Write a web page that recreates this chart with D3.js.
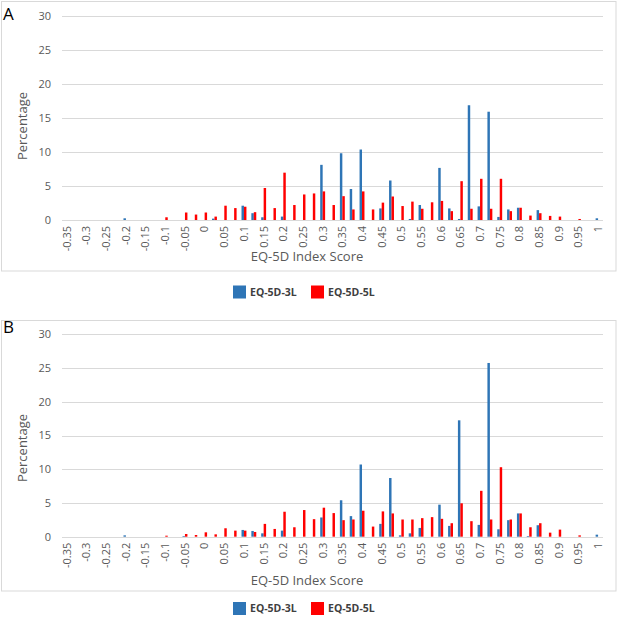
<!DOCTYPE html>
<html>
<head>
<meta charset="utf-8">
<script src="https://cdn.jsdelivr.net/npm/d3@7"></script>
<style>
  html, body { margin: 0; padding: 0; background: #fff; }
  svg { display: block; font-family: "Open Sans", "Liberation Sans", sans-serif; }
</style>
</head>
<body>
<svg id="chart" width="618" height="617"></svg>
<script>
// Categories: EQ-5D index score bins (step 0.025)
const categories = [-0.35,-0.325,-0.3,-0.275,-0.25,-0.225,-0.2,-0.175,-0.15,-0.125,-0.1,-0.075,-0.05,-0.025,0,0.025,0.05,0.075,0.1,0.125,0.15,0.175,0.2,0.225,0.25,0.275,0.3,0.325,0.35,0.375,0.4,0.425,0.45,0.475,0.5,0.525,0.55,0.575,0.6,0.625,0.65,0.675,0.7,0.725,0.75,0.775,0.8,0.825,0.85,0.875,0.9,0.925,0.95,0.975,1];
const tickLabels = ["-0.35","-0.3","-0.25","-0.2","-0.15","-0.1","-0.05","0","0.05","0.1","0.15","0.2","0.25","0.3","0.35","0.4","0.45","0.5","0.55","0.6","0.65","0.7","0.75","0.8","0.85","0.9","0.95","1"];
const yTicks = [0,5,10,15,20,25,30];
const seriesNames = ["EQ-5D-3L","EQ-5D-5L"];

// Panel A
const panelA_3L = [0,0,0,0,0,0,0.25,0,0,0,0,0,0,0,0,0.2,0,0,2.1,1.0,0.4,0,0.5,0,0,0,8.1,0,9.8,4.55,10.35,0,1.7,5.8,0,0.15,2.2,0,7.65,1.7,0.15,16.85,2.0,15.9,0.45,1.55,1.8,0,1.45,0,0,0,0,0,0.25];
const panelA_5L = [0,0,0,0,0,0,0,0,0,0,0.4,0,1.1,0.8,1.1,0.5,2.1,1.75,1.95,1.15,4.7,1.75,6.95,2.2,3.75,3.9,4.2,2.2,3.5,1.55,4.2,1.55,2.55,3.45,2.05,2.7,1.65,2.6,2.8,1.3,5.7,1.65,6.05,1.65,6.05,1.3,1.8,0.65,1.0,0.6,0.5,0,0.15,0,0];
// Panel B
const panelB_3L = [0,0,0,0,0,0,0.2,0,0,0,0,0,0.1,0,0,0,0,0,1.0,0.85,0.5,0,0.9,0,0,0,2.85,0,5.4,3.05,10.7,0,1.9,8.7,0.2,0.5,1.3,0,4.75,1.6,17.25,0,1.75,25.75,1.1,2.45,3.45,0.1,1.7,0,0,0,0,0,0.3];
const panelB_5L = [0,0,0,0,0,0,0,0,0,0,0.15,0,0.4,0.25,0.65,0.35,1.25,0.9,0.9,0.7,1.9,1.15,3.7,1.4,3.95,2.6,4.3,3.5,2.45,2.55,3.85,1.5,3.75,3.45,2.55,2.55,2.75,2.9,2.65,2.0,4.95,2.3,6.8,2.55,10.3,2.55,3.45,1.4,2.0,0.6,1.05,0,0.2,0,0];

const colors = { "EQ-5D-3L": "#2e75b6", "EQ-5D-5L": "#ff0000" };
const textGray = "#595959";
const gridGray = "#d9d9d9";

const svg = d3.select("#chart");

const x = d3.scaleBand()
  .domain(categories.map(String))
  .range([62, 603])
  .paddingInner(0.5)
  .paddingOuter(0.25);
const xSub = d3.scaleBand().domain(seriesNames).range([0, x.bandwidth()]);

function drawPanel(cfg) {
  const g = svg.append("g");
  // frame
  g.append("rect")
    .attr("x", 1.5).attr("y", cfg.frameTop)
    .attr("width", 614.5).attr("height", cfg.frameBottom - cfg.frameTop)
    .attr("fill", "none").attr("stroke", gridGray).attr("stroke-width", 1);

  const y = d3.scaleLinear().domain([0, 30]).range([cfg.y0, cfg.y30]);

  // gridlines
  g.append("g").selectAll("line").data(yTicks).join("line")
    .attr("x1", 62).attr("x2", 603)
    .attr("y1", d => Math.round(y(d)) + 0.5).attr("y2", d => Math.round(y(d)) + 0.5)
    .attr("stroke", gridGray).attr("stroke-width", 1);

  // y tick labels
  g.append("g").selectAll("text").data(yTicks).join("text")
    .attr("x", 51).attr("y", d => y(d)).attr("dy", "0.35em")
    .attr("text-anchor", "end")
    .attr("font-size", 11).attr("fill", textGray)
    .text(d => d);

  // bars
  const rows = categories.map((c, i) => ({ c: String(c), v: [cfg.s3[i], cfg.s5[i]] }));
  const grp = g.append("g").selectAll("g").data(rows).join("g")
    .attr("transform", d => `translate(${x(d.c)},0)`);
  grp.selectAll("rect")
    .data(d => seriesNames.map((s, k) => ({ s, v: d.v[k] })))
    .join("rect")
    .attr("x", d => xSub(d.s))
    .attr("width", xSub.bandwidth())
    .attr("y", d => y(d.v))
    .attr("height", d => y(0) - y(d.v))
    .attr("fill", d => colors[d.s]);

  // x tick labels (every other category)
  const tickCats = categories.filter((c, i) => i % 2 === 0);
  g.append("g").selectAll("text").data(tickCats).join("text")
    .attr("transform", (d, i) => `translate(${x(String(d)) + x.bandwidth() / 2},${cfg.y0 + 6}) rotate(-90)`)
    .attr("dy", "0.35em")
    .attr("text-anchor", "end")
    .attr("font-size", 11).attr("fill", textGray)
    .text((d, i) => tickLabels[i]);

  // axis title
  g.append("text")
    .attr("x", 307).attr("y", cfg.titleY)
    .attr("text-anchor", "middle")
    .attr("font-size", 13).attr("fill", textGray)
    .text("EQ-5D Index Score");

  // y title
  g.append("text")
    .attr("transform", `translate(27,${cfg.yTitleY}) rotate(-90)`)
    .attr("text-anchor", "middle")
    .attr("font-size", 13).attr("fill", textGray)
    .text("Percentage");

  // panel letter
  g.append("text")
    .attr("x", 3).attr("y", cfg.letterY)
    .attr("font-size", 17).attr("fill", "#000")
    .text(cfg.letter);

  // legend
  const leg = g.append("g");
  const legItems = [
    { s: "EQ-5D-3L", x: 233 },
    { s: "EQ-5D-5L", x: 311 }
  ];
  leg.selectAll("rect").data(legItems).join("rect")
    .attr("x", d => d.x).attr("y", cfg.legendY - 6.5)
    .attr("width", 13).attr("height", 13)
    .attr("fill", d => colors[d.s]);
  leg.selectAll("text").data(legItems).join("text")
    .attr("x", d => d.x + 17).attr("y", cfg.legendY).attr("dy", "0.35em")
    .attr("font-size", 10.5).attr("font-weight", "bold").attr("fill", "#404040")
    .text(d => d.s);
}

drawPanel({ letter: "A", frameTop: 1.5, frameBottom: 271, y0: 220, y30: 15.7,
  s3: panelA_3L, s5: panelA_5L, titleY: 261, yTitleY: 126, letterY: 20, legendY: 292 });
drawPanel({ letter: "B", frameTop: 320.5, frameBottom: 591, y0: 536.7, y30: 334.3,
  s3: panelB_3L, s5: panelB_5L, titleY: 585, yTitleY: 448, letterY: 333, legendY: 608.5 });
</script>
</body>
</html>
